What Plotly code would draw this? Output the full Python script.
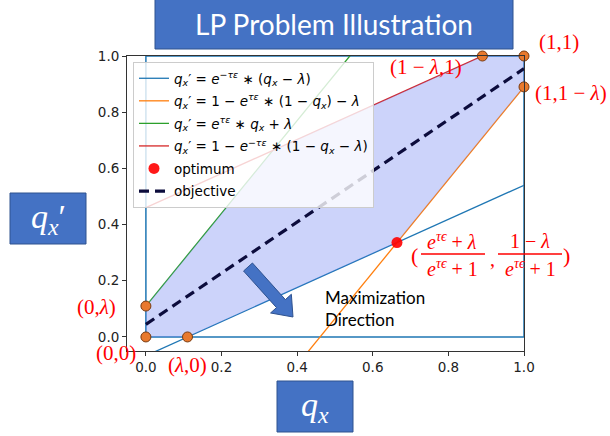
import plotly.graph_objects as go

# values
lam = 0.11

blue_x = [0.0, 1.0]
blue_y = [-0.067, 0.54]
orange_x = [0.40, 1.0]
orange_y = [-0.10, 0.89]
green_x = [0.0, 0.60]
green_y = [0.11, 1.10]
red_x = [0.0, 1.0]
red_y = [0.46, 1.067]

box_x = [0, 1, 1, 0, 0]
box_y = [0, 0, 1, 1, 0]

objective_x = [0.0, 1.0]
objective_y = [0.045, 0.955]

region_x = [0.0, 0.11, 0.664, 1.0, 1.0, 0.89, 0.336, 0.0]
region_y = [0.0, 0.0, 0.336, 0.89, 1.0, 1.0, 0.664, 0.11]

corner_x = [0.0, 0.11, 0.0, 1.0, 0.89, 1.0]
corner_y = [0.0, 0.0, 0.11, 1.0, 1.0, 0.89]

optimum_x = [0.664]
optimum_y = [0.336]

tick_vals = [0.0, 0.2, 0.4, 0.6, 0.8, 1.0]

# plot area in pixels (for decorations placed in paper coords)
W, H = 610, 436
L, R, T, B = 127, 524, 56, 351

BOX_BLUE = "#4472C4"
BOX_EDGE = "#2F528F"
MATH_FONT = "Liberation Serif"


def px(x):
    return (x - L) / (R - L)


def py(y):
    return (B - y) / (B - T)


fig = go.Figure()

fig.add_trace(go.Scatter(x=box_x, y=box_y, mode="lines", showlegend=False,
                         line=dict(color="#1f77b4", width=1.5), hoverinfo="skip"))

lines = [
    (blue_x, blue_y, "#1f77b4",
     "<i>q</i><sub><i>x</i></sub>′ = <i>e</i><sup>−<i>τε</i></sup> ∗ (<i>q</i><sub><i>x</i></sub> − <i>λ</i>)"),
    (orange_x, orange_y, "#ff7f0e",
     "<i>q</i><sub><i>x</i></sub>′ = 1 − <i>e</i><sup><i>τε</i></sup> ∗ (1 − <i>q</i><sub><i>x</i></sub>) − <i>λ</i>"),
    (green_x, green_y, "#2ca02c",
     "<i>q</i><sub><i>x</i></sub>′ = <i>e</i><sup><i>τε</i></sup> ∗ <i>q</i><sub><i>x</i></sub> + <i>λ</i>"),
    (red_x, red_y, "#d62728",
     "<i>q</i><sub><i>x</i></sub>′ = 1 − <i>e</i><sup>−<i>τε</i></sup> ∗ (1 − <i>q</i><sub><i>x</i></sub> − <i>λ</i>)"),
]
for rank, (xs, ys, color, name) in enumerate(lines):
    fig.add_trace(go.Scatter(x=xs, y=ys, mode="lines", name=name, legendrank=rank + 1,
                             legendgroup=f"g{rank + 1}",
                             line=dict(color=color, width=1.3)))

# feasible region, drawn over the lines so they are tinted
fig.add_trace(go.Scatter(x=region_x, y=region_y, mode="lines", fill="toself",
                         fillcolor="rgba(100,120,240,0.33)", line=dict(width=0),
                         showlegend=False, hoverinfo="skip"))

fig.add_trace(go.Scatter(x=objective_x, y=objective_y, mode="lines", name="objective",
                         legendrank=6, legendgroup="g6",
                         line=dict(color="#0c0c3c", width=3.2, dash="10px,6px")))

fig.add_trace(go.Scatter(x=corner_x, y=corner_y, mode="markers", showlegend=False,
                         marker=dict(size=10, color="#e8792d",
                                     line=dict(color="#7a3b10", width=1)),
                         cliponaxis=False))

fig.add_trace(go.Scatter(x=optimum_x, y=optimum_y, mode="markers", name="optimum",
                         legendrank=5, legendgroup="g5",
                         marker=dict(size=11, color="rgba(255,0,0,0.9)"), cliponaxis=False))

shapes = []
annotations = []


def text_box(x0, y0, x1, y1, text, size, family):
    shapes.append(dict(type="rect", xref="paper", yref="paper",
                       x0=px(x0), x1=px(x1), y0=py(y1), y1=py(y0),
                       fillcolor=BOX_BLUE, line=dict(color=BOX_EDGE, width=1), layer="above"))
    annotations.append(dict(xref="paper", yref="paper", x=px((x0 + x1) / 2),
                            y=py((y0 + y1) / 2), text=text, showarrow=False,
                            xanchor="center", yanchor="middle",
                            font=dict(size=size, color="white", family=family)))


text_box(155, -2, 513, 49, "LP Problem Illustration", 28, "Lato")
text_box(10, 193, 86, 244, "<i>q<sub>x</sub></i>′", 34, MATH_FONT)
text_box(277, 381, 353, 432, "<i>q<sub>x</sub></i>", 34, MATH_FONT)


def label(x, y, text, size=21, anchor="center"):
    annotations.append(dict(xref="paper", yref="paper", x=px(x), y=py(y), text=text,
                            showarrow=False, xanchor=anchor, yanchor="middle",
                            font=dict(size=size, color="red", family=MATH_FONT)))


label(559, 42, "(1,1)")
label(426, 67, "(1 − <i>λ</i>,1)")
label(571, 93, "(1,1 − <i>λ</i>)")
label(96, 307, "(0,<i>λ</i>)")
label(116, 353, "(0,0)")
label(187, 365, "(<i>λ</i>,0)")

# fraction label at the optimum
label(452, 241, "<i>e</i><sup><i>τϵ</i></sup> + <i>λ</i>", 20)
label(452, 268, "<i>e</i><sup><i>τϵ</i></sup> + 1", 20)
label(530, 241, "1 − <i>λ</i>", 20)
label(530, 268, "<i>e</i><sup><i>τϵ</i></sup> + 1", 20)
label(414, 255, "(", 22)
label(566, 255, ")", 22)
label(492, 259, ",", 20)
for x0, x1 in [(421, 485), (498, 562)]:
    shapes.append(dict(type="line", xref="paper", yref="paper", x0=px(x0), x1=px(x1),
                       y0=py(254), y1=py(254), line=dict(color="red", width=1.3),
                       layer="above"))

annotations.append(dict(xref="paper", yref="paper", x=px(323), y=py(308.5),
                        text="Maximization<br>Direction", showarrow=False,
                        xanchor="left", yanchor="middle", align="left",
                        font=dict(size=17, color="black", family="Lato")))

# block arrow for the maximization direction
tail = (248.0, 267.0)
tip = (293.0, 317.0)
dx, dy = tip[0] - tail[0], tip[1] - tail[1]
n = (dx ** 2 + dy ** 2) ** 0.5
ux, uy = dx / n, dy / n
nx, ny = uy, -ux
base = (tip[0] - 18 * ux, tip[1] - 18 * uy)
pts = [
    (tail[0] + 6 * nx, tail[1] + 6 * ny),
    (base[0] + 6 * nx, base[1] + 6 * ny),
    (base[0] + 14 * nx, base[1] + 14 * ny),
    tip,
    (base[0] - 14 * nx, base[1] - 14 * ny),
    (base[0] - 6 * nx, base[1] - 6 * ny),
    (tail[0] - 6 * nx, tail[1] - 6 * ny),
]
path = "M " + " L ".join(f"{px(a):.4f},{py(b):.4f}" for a, b in pts) + " Z"
shapes.append(dict(type="path", xref="paper", yref="paper", path=path,
                   fillcolor=BOX_BLUE, line=dict(color=BOX_EDGE, width=1), layer="above"))

axis_common = dict(
    tickvals=tick_vals, tickformat=".1f", ticks="outside", ticklen=4, tickcolor="#333",
    showgrid=False, zeroline=False, showline=True, linecolor="#333", linewidth=1,
    mirror=True, tickfont=dict(family="DejaVu Sans", size=13.5, color="#222"),
    automargin=False,
)

fig.update_layout(
    width=W, height=H,
    margin=dict(l=L, r=W - R, t=T, b=H - B),
    plot_bgcolor="white", paper_bgcolor="white",
    shapes=shapes, annotations=annotations,
    legend=dict(x=px(133), y=py(62), xanchor="left", yanchor="top",
                bgcolor="rgba(255,255,255,0.8)", bordercolor="#cccccc", borderwidth=1,
                font=dict(family="DejaVu Sans", size=13.5, color="black"),
                itemwidth=30, traceorder="grouped", tracegroupgap=2),
    hovermode="closest",
)
fig.update_xaxes(range=[-0.05, 1.0], **axis_common)
fig.update_yaxes(range=[-0.05, 1.0], **axis_common)

# the page body has a default 8px margin; drop it so the figure sits at the corner
fig.write_html("out.html", config={"displayModeBar": False},
               post_script="document.body.style.margin = '0';")
